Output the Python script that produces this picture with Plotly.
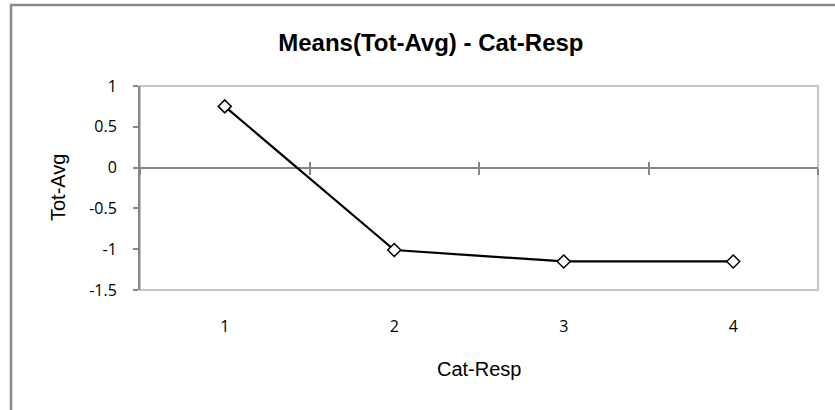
import plotly.graph_objects as go

# Mean of Tot-Avg for each response category
categories = [1, 2, 3, 4]
means = [0.75, -1.01, -1.15, -1.15]

y_ticks = [1, 0.5, 0, -0.5, -1, -1.5]
y_tick_labels = ["1", "0.5", "0", "-0.5", "-1", "-1.5"]
category_bounds = [0.5, 1.5, 2.5, 3.5, 4.5]

chart_title = "Means(Tot-Avg) - Cat-Resp"
x_title = "Cat-Resp"
y_title = "Tot-Avg"

Y_RANGE = [-1.5, 1]
X_RANGE = [0.5, 4.5]
# fraction of the plot height where the category axis crosses y = 0
zero_pos = (0 - Y_RANGE[0]) / (Y_RANGE[1] - Y_RANGE[0])

AXIS_GREY = "#868686"
FRAME_GREY = "#c4c4c4"
TITLE_FONT = "Liberation Sans, Arial, sans-serif"
TICK_FONT = "Open Sans, Noto Sans, sans-serif"

fig = go.Figure()

fig.add_trace(go.Scatter(
    x=categories, y=means, mode="lines+markers",
    line=dict(color="black", width=2.25),
    marker=dict(symbol="diamond", size=10, color="white",
                line=dict(color="black", width=1.5)),
    showlegend=False, hoverinfo="x+y",
))

# helper traces so the two crossing-axis overlays get drawn
for ax in ("x2", "x3"):
    fig.add_trace(go.Scatter(
        x=categories, y=means, xaxis=ax, mode="lines",
        line=dict(width=0), opacity=0, showlegend=False, hoverinfo="skip",
    ))

fig.update_layout(
    width=835, height=410,
    margin=dict(l=140, r=17, t=86, b=120),
    paper_bgcolor="white", plot_bgcolor="white",
    title=dict(text=chart_title, x=0.516, xref="container", xanchor="center",
               y=1 - 43 / 410, yref="container", yanchor="middle",
               font=dict(family=TITLE_FONT, size=24, color="black", weight="bold")),
    xaxis=dict(
        range=X_RANGE, tickmode="array", tickvals=categories,
        ticktext=[str(c) for c in categories],
        showline=False, showgrid=False, zeroline=False, ticks="",
        ticklabelstandoff=25,
        tickfont=dict(family=TICK_FONT, size=16, color="black"),
    ),
    xaxis2=dict(
        overlaying="x", anchor="free", position=zero_pos, range=X_RANGE,
        tickmode="array", tickvals=category_bounds, showticklabels=False,
        showline=True, linecolor=AXIS_GREY, linewidth=2,
        ticks="outside", ticklen=6, tickwidth=1.5, tickcolor=AXIS_GREY,
        showgrid=False, zeroline=False, layer="below traces",
    ),
    xaxis3=dict(
        overlaying="x", anchor="free", position=zero_pos, range=X_RANGE,
        tickmode="array", tickvals=category_bounds, showticklabels=False,
        showline=False,
        ticks="inside", ticklen=6, tickwidth=1.5, tickcolor=AXIS_GREY,
        showgrid=False, zeroline=False, layer="below traces",
    ),
    yaxis=dict(
        range=Y_RANGE, tickmode="array", tickvals=y_ticks, ticktext=y_tick_labels,
        showline=True, linecolor=AXIS_GREY, linewidth=2,
        ticks="outside", ticklen=5, tickwidth=1.5, tickcolor=AXIS_GREY,
        showgrid=False, zeroline=False, ticklabelstandoff=13,
        tickfont=dict(family=TICK_FONT, size=16, color="black"),
    ),
    annotations=[
        dict(text=y_title, textangle=-90, xref="paper", yref="paper",
             x=(58 - 140) / 678, y=0.5, xanchor="center", yanchor="middle",
             showarrow=False, font=dict(family=TITLE_FONT, size=20, color="black")),
        dict(text=x_title, xref="paper", yref="paper",
             x=0.5, y=(290 - 369) / 204, xanchor="center", yanchor="middle",
             showarrow=False, font=dict(family=TITLE_FONT, size=20, color="black")),
    ],
    shapes=[
        # plot-area border
        dict(type="rect", xref="x domain", yref="y domain", x0=0, x1=1, y0=0, y1=1,
             line=dict(color=FRAME_GREY, width=2), layer="below"),
        # chart-area border (runs past the right and bottom edges of the page)
        dict(type="rect", xref="paper", yref="paper",
             x0=(11 - 140) / 678, x1=(860 - 140) / 678,
             y0=(290 - 440) / 204, y1=(290 - 5) / 204,
             line=dict(color="#8a8a8a", width=2.5), layer="below"),
    ],
)

fig.write_html("out.html")
